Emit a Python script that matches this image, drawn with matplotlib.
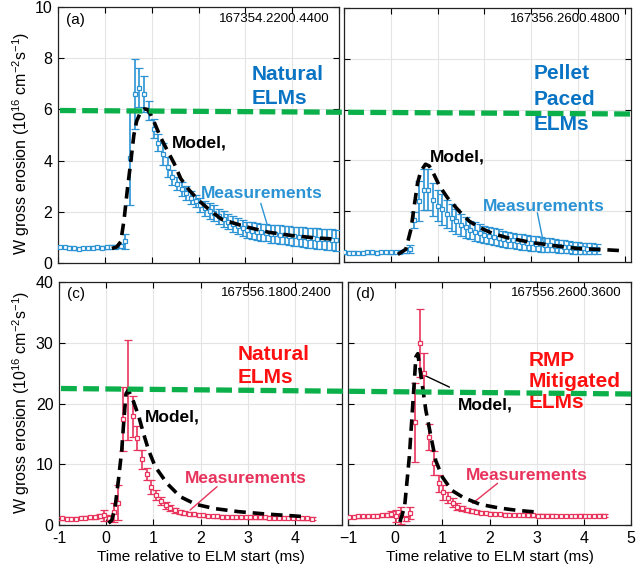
import numpy as np
import matplotlib
matplotlib.use("Agg")
import matplotlib.pyplot as plt
from matplotlib.lines import Line2D

plt.rcParams['font.family'] = ['Liberation Sans', 'DejaVu Sans']
plt.rcParams['mathtext.fontset'] = 'custom'
plt.rcParams['mathtext.rm'] = 'Liberation Sans'
plt.rcParams['mathtext.it'] = 'Liberation Sans:italic'

# ---- data: measurements on a 0.1 ms grid, model curves ----
t_a = np.round(np.arange(60) * 0.1 - 0.96, 3)
meas_a = [0.62, 0.63, 0.60, 0.57, 0.56, 0.58, 0.59, 0.60, 0.61, 0.60, 0.62, 0.63, 0.64, 0.66,
          0.85, 4.10, 6.60, 6.85, 6.60, 5.95, 5.25, 4.70, 4.25, 3.75, 3.35, 3.10, 2.90, 2.72,
          2.55, 2.42, 2.25, 2.13, 2.03, 1.95, 1.82, 1.72, 1.62, 1.53, 1.45, 1.37, 1.30, 1.26,
          1.23, 1.20, 1.18, 1.15, 1.13, 1.11, 1.09, 1.07, 1.05, 1.03, 1.01, 0.99, 0.97, 0.95,
          0.93, 0.92, 0.90, 0.88]
err_a = [0.05, 0.05, 0.05, 0.05, 0.04, 0.05, 0.05, 0.05, 0.05, 0.05, 0.06, 0.06, 0.07, 0.08,
         0.30, 1.85, 1.35, 0.75, 0.70, 0.38, 0.38, 0.32, 0.42, 0.40, 0.30, 0.25, 0.28, 0.27,
         0.25, 0.25, 0.27, 0.30, 0.30, 0.30, 0.30, 0.31, 0.31, 0.32, 0.32, 0.32, 0.32, 0.33,
         0.33, 0.34, 0.34, 0.35, 0.35, 0.36, 0.36, 0.37, 0.37, 0.38, 0.38, 0.39, 0.39, 0.40,
         0.40, 0.41, 0.41, 0.42]
model_ta = [0.15, 0.25, 0.34, 0.41, 0.48, 0.55, 0.62, 0.68, 0.76, 0.84, 0.91, 0.98, 1.05,
            1.19, 1.33, 1.48, 1.62, 1.8, 2.0, 2.25, 2.5, 3.0, 3.5, 4.0, 4.5, 4.94]
model_a = [0.57, 0.62, 0.83, 1.68, 2.85, 3.9, 5.0, 5.55, 5.88, 6.02, 6.0, 5.8, 5.52,
           4.91, 4.41, 3.89, 3.3, 2.85, 2.45, 2.05, 1.7, 1.42, 1.2, 1.07, 0.98, 0.93]

t_b = np.round(np.arange(55) * 0.1 - 1.0, 3)
meas_b = [0.38, 0.37, 0.37, 0.36, 0.37, 0.38, 0.38, 0.37, 0.38, 0.39, 0.38,
          0.39, 0.40, 0.42, 0.50, 1.65, 2.40, 2.85, 2.85, 2.45, 2.22, 2.07,
          1.90, 1.75, 1.60, 1.47, 1.36, 1.27, 1.20, 1.13, 1.07, 1.04, 1.00,
          0.96, 0.92, 0.88, 0.85, 0.82, 0.79, 0.76, 0.74, 0.72, 0.70, 0.68,
          0.66, 0.64, 0.62, 0.60, 0.58, 0.56, 0.55, 0.54, 0.53, 0.52, 0.50]
err_b = [0.05, 0.04, 0.05, 0.05, 0.04, 0.05, 0.05, 0.05, 0.04, 0.05, 0.05,
         0.05, 0.05, 0.06, 0.15, 0.30, 0.80, 0.80, 0.82, 0.65, 0.62, 0.60,
         0.55, 0.52, 0.50, 0.43, 0.40, 0.36, 0.36, 0.36, 0.34, 0.33, 0.33,
         0.32, 0.32, 0.31, 0.31, 0.30, 0.30, 0.30, 0.30, 0.30, 0.29, 0.28,
         0.27, 0.26, 0.25, 0.25, 0.24, 0.23, 0.22, 0.22, 0.21, 0.21, 0.20]
model_tb = [0.15, 0.32, 0.43, 0.5, 0.57, 0.64, 0.74, 0.82, 0.89, 0.96, 1.04, 1.21, 1.46,
            1.68, 1.9, 2.18, 2.5, 3.0, 3.5, 4.0, 4.6, 5.0]
model_b = [0.3, 0.5, 1.29, 2.2, 3.1, 3.57, 3.85, 3.78, 3.57, 3.3, 2.99, 2.53, 2.0,
           1.6, 1.35, 1.12, 0.95, 0.77, 0.64, 0.53, 0.48, 0.44]

t_c = np.round(np.arange(54) * 0.1 - 0.94, 3)
meas_c = [1.10, 1.05, 1.00, 1.05, 1.15, 1.20, 1.25, 1.30, 1.50, 1.60, 1.20,
          2.10, 3.70, 17.4, 22.2, 17.9, 14.3, 10.8, 8.35, 6.25, 4.90, 4.00,
          3.25, 2.80, 2.45, 2.20, 2.00, 1.85, 1.75, 1.65, 1.58, 1.52, 1.47,
          1.42, 1.38, 1.35, 1.32, 1.30, 1.28, 1.27, 1.26, 1.25, 1.25, 1.24,
          1.23, 1.22, 1.20, 1.18, 1.16, 1.14, 1.12, 1.10, 1.08, 1.06]
err_c = [0.20, 0.20, 0.20, 0.20, 0.20, 0.20, 0.20, 0.25, 0.30, 0.90, 0.50,
         1.55, 2.90, 5.30, 8.20, 3.40, 2.00, 1.50, 1.00, 1.15, 0.80, 0.65,
         0.55, 0.47, 0.42, 0.35, 0.30, 0.28, 0.25, 0.22, 0.20, 0.20, 0.20,
         0.20, 0.20, 0.20, 0.20, 0.20, 0.20, 0.20, 0.20, 0.20, 0.20, 0.20,
         0.20, 0.20, 0.20, 0.20, 0.20, 0.20, 0.20, 0.20, 0.20, 0.20]
model_tc = [0.05, 0.12, 0.19, 0.26, 0.33, 0.37, 0.42, 0.47, 0.58, 0.69, 0.79, 0.9, 1.04,
            1.29, 1.57, 1.9, 2.3, 2.8, 3.4, 3.97, 4.15]
model_c = [0.3, 0.8, 3.0, 7.4, 12.3, 16.7, 21.6, 22.2, 20.3, 17.9, 15.1, 12.3, 9.6,
           6.85, 4.66, 3.4, 2.7, 2.2, 1.8, 1.5, 1.4]

t_d = np.round(np.arange(55) * 0.1 - 0.98, 3)
meas_d = [1.35, 1.35, 1.40, 1.40, 1.45, 1.50, 1.55, 1.60, 1.70, 1.85, 1.50,
          1.60, 1.00, 2.00, 16.9, 30.0, 25.0, 14.5, 10.2, 6.85, 5.35, 4.50,
          3.70, 3.00, 2.75, 2.50, 2.30, 2.20, 2.05, 1.95, 1.88, 1.82, 1.77,
          1.72, 1.68, 1.65, 1.62, 1.60, 1.58, 1.57, 1.56, 1.55, 1.54, 1.53,
          1.50, 1.48, 1.47, 1.50, 1.52, 1.53, 1.52, 1.50, 1.52, 1.54, 1.55]
err_d = [0.20, 0.20, 0.20, 0.20, 0.20, 0.20, 0.25, 0.25, 0.30, 0.50, 1.00,
         1.40, 0.40, 1.00, 6.50, 5.60, 3.30, 2.20, 2.00, 1.35, 1.25, 0.95,
         0.70, 0.55, 0.40, 0.35, 0.30, 0.25, 0.25, 0.22, 0.20, 0.20, 0.20,
         0.20, 0.20, 0.20, 0.20, 0.20, 0.20, 0.20, 0.20, 0.20, 0.20, 0.20,
         0.20, 0.20, 0.20, 0.20, 0.20, 0.20, 0.20, 0.20, 0.20, 0.20, 0.20]
model_td = [0.1, 0.2, 0.3, 0.37, 0.44, 0.48, 0.55, 0.65, 0.76, 0.86, 1.0, 1.2, 1.45,
            1.8, 2.2, 2.6, 3.04]
model_d = [0.5, 3.0, 11.2, 19.4, 27.7, 28.2, 24.4, 18.9, 14.5, 10.6, 7.9, 5.7, 4.5,
           3.4, 2.8, 2.4, 2.1]

shots = ['167354.2200.4400', '167356.2600.4800', '167556.1800.2400', '167556.2600.3600']
xticks = [-1, 0, 1, 2, 3, 4, 5]

BLUE = '#2b93d4'
BLUE_TXT = '#0a74c4'
RED = '#e8345c'
RED_TXT = '#ff1010'
GREEN = '#0cb04a'

fig = plt.figure(figsize=(6.36, 5.73), dpi=100)
W, H = 636.0, 573.0


def make_ax(x0, x1, ytop, ybot):
    return fig.add_axes([x0 / W, 1 - ybot / H, (x1 - x0) / W, (ybot - ytop) / H])


ax_a = make_ax(58, 339, 7, 263)
ax_b = make_ax(344, 631, 8, 262)
ax_c = make_ax(59, 342, 282, 525)
ax_d = make_ax(348, 631, 282, 525)

panels = [
    (ax_a, t_a, meas_a, err_a, model_ta, model_a, BLUE),
    (ax_b, t_b, meas_b, err_b, model_tb, model_b, BLUE),
    (ax_c, t_c, meas_c, err_c, model_tc, model_c, RED),
    (ax_d, t_d, meas_d, err_d, model_td, model_d, RED),
]

for ax, t, m, e, mt, mv, col in panels:
    ax.grid(True, color='#e4e4e4', lw=0.8)
    ax.set_axisbelow(True)
    ax.errorbar(t, m, yerr=e, fmt='s', ms=3.2, mfc='white', mec=col, mew=0.9,
                ecolor=col, elinewidth=1.2, capsize=3, capthick=1.1, zorder=3)
    ax.plot(mt, mv, color='black', lw=2.6, dashes=(3.2, 1.9), dash_capstyle='butt', zorder=4)
    ax.set_xticks(xticks)
    ax.tick_params(direction='in', length=4, width=0.8, top=True, right=True,
                   labelsize=11.5, pad=4)
    for sp in ax.spines.values():
        sp.set_linewidth(0.9)
        sp.set_color('#222222')

ax_a.set_xlim(-1, 5)
ax_b.set_xlim(-1, 5.13)
ax_c.set_xlim(-1, 5)
ax_d.set_xlim(-1, 5)
for ax in (ax_a, ax_b):
    ax.set_ylim(0, 10)
    ax.set_yticks([0, 2, 4, 6, 8, 10])
    ax.tick_params(labelbottom=False)
for ax in (ax_c, ax_d):
    ax.set_ylim(0, 40)
    ax.set_yticks([0, 10, 20, 30, 40])
    ax.set_xlabel('Time relative to ELM start (ms)', fontsize=11, labelpad=3)
ax_b.tick_params(labelleft=False)
ax_d.tick_params(labelleft=False)
ax_c.set_xticklabels(['-1', '0', '1', '2', '3', '4', ''])

# shot numbers and panel letters
for ax, s in zip((ax_a, ax_b, ax_c, ax_d), shots):
    ax.text(0.965, 0.955, s, transform=ax.transAxes, ha='right', va='center', fontsize=9.5)
for ax, lab in ((ax_a, '(a)'), (ax_c, '(c)'), (ax_d, '(d)')):
    ax.text(0.03, 0.95, lab, transform=ax.transAxes, ha='left', va='center', fontsize=11)

# y labels
ylab = 'W gross erosion (10$^{16}$ cm$^{-2}$s$^{-1}$)'
fig.text(21 / W, 1 - 143 / H, ylab, rotation=90, ha='center', va='center', fontsize=11.5)
fig.text(21 / W, 1 - 402 / H, ylab, rotation=90, ha='center', va='center', fontsize=11.5)

# regime labels
big = dict(fontsize=15, fontweight='bold', ha='left', va='top')
ax_a.text(3.13, 7.72, 'Natural\nELMs', color=BLUE_TXT, linespacing=1.3, **big)
ax_b.text(3.04, 7.78, 'Pellet\nPaced\nELMs', color=BLUE_TXT, linespacing=1.42, **big)
ax_c.text(2.78, 29.65, 'Natural\nELMs', color=RED_TXT, linespacing=1.3, **big)
ax_d.text(2.82, 28.65, 'RMP\nMitigated\nELMs', color=RED_TXT, linespacing=1.12, **big)

# model / measurement annotations
mod = dict(fontsize=12.5, fontweight='bold', ha='left', va='center', color='black')
ax_a.text(1.43, 4.69, 'Model,', **mod)
ax_b.text(0.84, 4.14, 'Model,', **mod)
ax_c.text(0.83, 17.8, 'Model,', **mod)
ax_d.text(1.32, 19.7, 'Model,', **mod)

mea = dict(fontsize=12.5, fontweight='bold', ha='left', va='center')
ax_a.text(2.06, 2.73, 'Measurements', color=BLUE, **mea)
ax_b.text(1.97, 2.19, 'Measurements', color=BLUE, **mea)
ax_c.text(1.67, 7.7, 'Measurements', color=RED, **mea)
ax_d.text(1.49, 8.2, 'Measurements', color=RED, **mea)


def pointer(ax, start, end, col):
    ax.annotate('', xy=end, xytext=start,
                arrowprops=dict(arrowstyle='-', color=col, lw=1.0, shrinkA=0, shrinkB=0))


pointer(ax_a, (3.33, 2.33), (3.47, 1.48), BLUE)
pointer(ax_b, (3.13, 1.94), (3.28, 0.57), BLUE)
pointer(ax_c, (2.35, 6.3), (1.78, 2.47), RED)
pointer(ax_d, (2.17, 6.86), (1.64, 3.57), RED)
pointer(ax_d, (1.15, 22.7), (0.55, 24.9), 'black')

# green reference lines spanning both panels of a row
for (x0, y0, x1, y1) in ((60, 110.5, 631, 114.0), (61, 388.5, 631, 394.0)):
    fig.add_artist(Line2D([x0 / W, x1 / W], [1 - y0 / H, 1 - y1 / H],
                          transform=fig.transFigure, color=GREEN, lw=3.8,
                          dashes=(3.0, 1.2), dash_capstyle='butt', zorder=5))

fig.savefig('out.png', dpi=100)
